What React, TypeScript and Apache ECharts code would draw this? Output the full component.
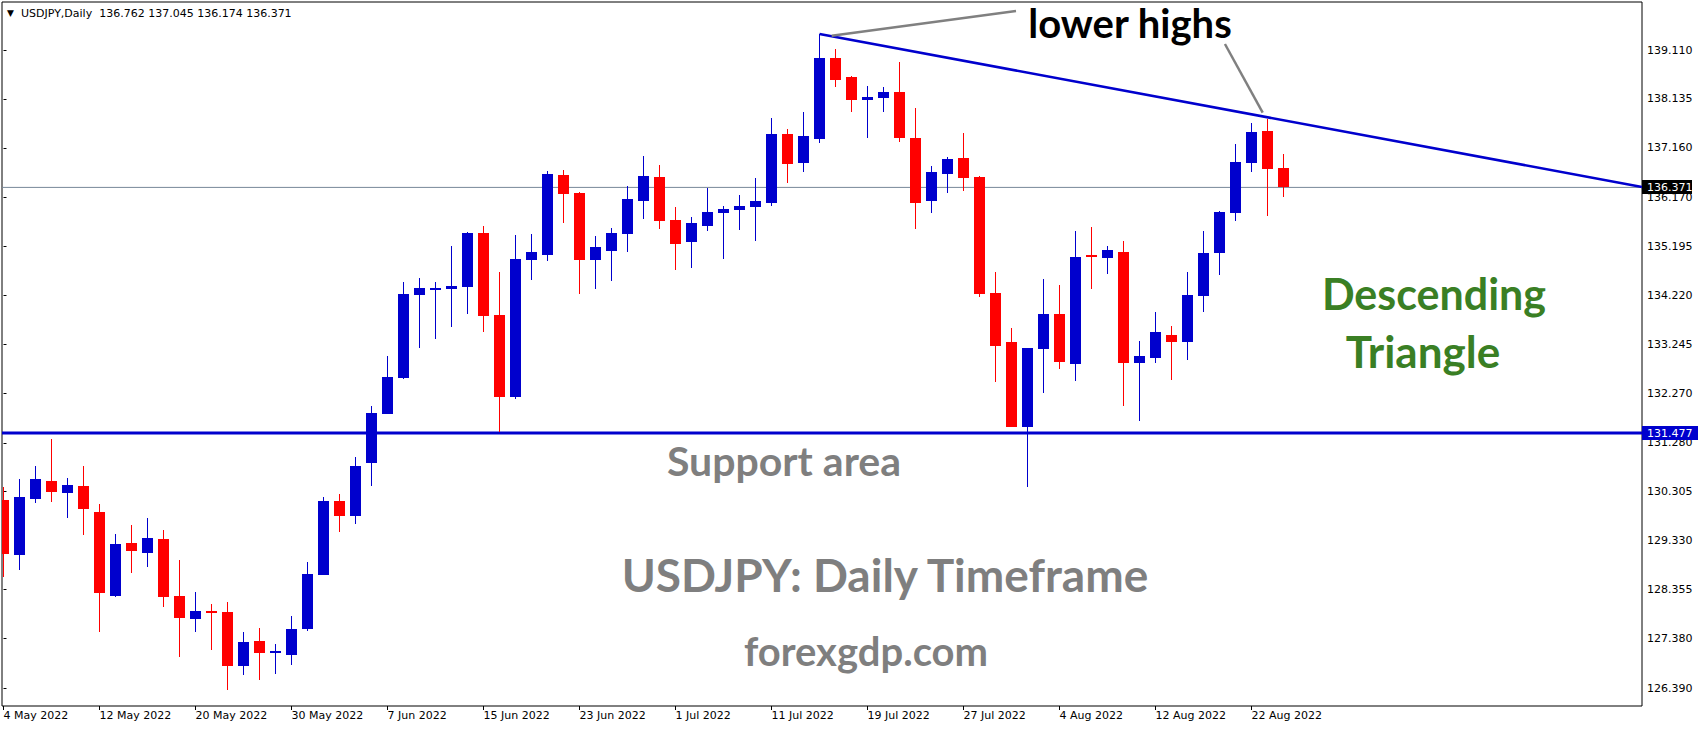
import React, { useEffect, useRef } from 'react';
import * as echarts from 'echarts';

// ---------- data ----------
const dates: string[] = [
  '4 May 2022', '5 May 2022', '6 May 2022', '9 May 2022', '10 May 2022', '11 May 2022', '12 May 2022', '13 May 2022',
  '16 May 2022', '17 May 2022', '18 May 2022', '19 May 2022', '20 May 2022', '23 May 2022', '24 May 2022', '25 May 2022',
  '26 May 2022', '27 May 2022', '30 May 2022', '31 May 2022', '1 Jun 2022', '2 Jun 2022', '3 Jun 2022', '6 Jun 2022',
  '7 Jun 2022', '8 Jun 2022', '9 Jun 2022', '10 Jun 2022', '13 Jun 2022', '14 Jun 2022', '15 Jun 2022', '16 Jun 2022',
  '17 Jun 2022', '20 Jun 2022', '21 Jun 2022', '22 Jun 2022', '23 Jun 2022', '24 Jun 2022', '27 Jun 2022', '28 Jun 2022',
  '29 Jun 2022', '30 Jun 2022', '1 Jul 2022', '4 Jul 2022', '5 Jul 2022', '6 Jul 2022', '7 Jul 2022', '8 Jul 2022',
  '11 Jul 2022', '12 Jul 2022', '13 Jul 2022', '14 Jul 2022', '15 Jul 2022', '18 Jul 2022', '19 Jul 2022', '20 Jul 2022',
  '21 Jul 2022', '22 Jul 2022', '25 Jul 2022', '26 Jul 2022', '27 Jul 2022', '28 Jul 2022', '29 Jul 2022', '1 Aug 2022',
  '2 Aug 2022', '3 Aug 2022', '4 Aug 2022', '5 Aug 2022', '8 Aug 2022', '9 Aug 2022', '10 Aug 2022', '11 Aug 2022',
  '12 Aug 2022', '15 Aug 2022', '16 Aug 2022', '17 Aug 2022', '18 Aug 2022', '19 Aug 2022', '22 Aug 2022', '23 Aug 2022',
  '24 Aug 2022',
];

const opens: number[] = [
  130.139, 129.049, 130.159, 130.518, 130.278, 130.418, 129.899, 128.225, 129.282, 129.082,
  129.361, 128.225, 127.766, 127.926, 127.906, 126.829, 127.328, 127.088, 127.049, 127.567,
  128.644, 130.119, 129.820, 130.883, 131.860, 132.571, 134.226, 134.325, 134.345, 134.385,
  135.468, 133.827, 132.199, 134.923, 135.023, 136.618, 136.259, 134.923, 135.103, 135.442,
  136.106, 136.578, 135.721, 135.282, 135.601, 135.860, 135.920, 135.980, 136.060, 137.435,
  136.857, 137.342, 138.950, 138.572, 138.113, 138.153, 138.273, 137.355, 136.100, 136.638,
  136.957, 136.578, 134.272, 133.289, 131.601, 133.156, 133.847, 132.857, 135.023, 134.970,
  135.083, 132.877, 132.976, 133.428, 133.295, 134.206, 135.063, 135.860, 136.857, 137.495,
  136.762,
];
const highs: number[] = [
  130.405, 130.557, 130.817, 131.355, 130.577, 130.817, 130.059, 129.461, 129.640, 129.780,
  129.541, 128.943, 128.305, 128.065, 128.105, 127.507, 127.587, 127.268, 127.826, 128.903,
  130.199, 130.258, 130.996, 132.013, 133.010, 134.485, 134.565, 134.485, 135.202, 135.488,
  135.601, 134.684, 135.422, 135.442, 136.698, 136.718, 136.279, 135.402, 135.561, 136.399,
  136.997, 136.817, 135.980, 135.781, 136.359, 136.000, 136.219, 136.558, 137.754, 137.535,
  137.874, 139.429, 139.130, 138.592, 138.392, 138.372, 138.871, 137.954, 136.797, 136.977,
  137.455, 136.598, 134.684, 133.568, 133.169, 134.551, 134.425, 135.501, 135.581, 135.203,
  135.302, 133.308, 133.887, 133.607, 134.684, 135.501, 135.900, 137.236, 137.655, 137.734,
  137.045,
];
const lows: number[] = [
  128.610, 128.743, 130.086, 130.099, 129.780, 129.441, 127.507, 128.205, 128.683, 128.803,
  128.006, 127.009, 127.507, 127.148, 126.351, 126.650, 126.550, 126.670, 126.849, 127.527,
  128.644, 129.501, 129.660, 130.424, 131.860, 132.551, 133.169, 133.348, 133.588, 133.847,
  133.488, 131.488, 132.159, 134.525, 134.903, 135.661, 134.245, 134.345, 134.505, 135.083,
  135.741, 135.541, 134.724, 134.764, 135.501, 134.943, 135.521, 135.302, 136.000, 136.458,
  136.678, 137.262, 138.372, 137.874, 137.355, 137.874, 137.276, 135.541, 135.860, 136.259,
  136.299, 134.193, 132.498, 131.601, 130.391, 132.278, 132.757, 132.518, 134.352, 134.651,
  132.019, 131.720, 132.877, 132.538, 132.936, 133.887, 134.624, 135.701, 136.678, 135.801,
  136.174,
];
const closes: number[] = [
  129.062, 130.199, 130.557, 130.298, 130.438, 129.959, 128.285, 129.262, 129.122, 129.381,
  128.205, 127.786, 127.926, 127.886, 126.829, 127.308, 127.088, 127.128, 127.567, 128.664,
  130.119, 129.820, 130.817, 131.880, 132.591, 134.245, 134.365, 134.365, 134.405, 135.468,
  133.807, 132.199, 134.943, 135.083, 136.638, 136.239, 134.923, 135.183, 135.462, 136.140,
  136.598, 135.701, 135.243, 135.661, 135.880, 135.940, 136.000, 136.100, 137.435, 136.837,
  137.395, 138.950, 138.512, 138.113, 138.173, 138.273, 137.355, 136.060, 136.678, 136.937,
  136.558, 134.252, 133.209, 131.601, 133.169, 133.847, 132.896, 134.983, 134.983, 135.123,
  132.877, 133.009, 133.488, 133.295, 134.226, 135.063, 135.880, 136.877, 137.475, 136.737,
  136.371,
];

const priceTicks: number[] = [
  139.110, 138.135, 137.160, 136.170, 135.195, 134.220, 133.245,
  132.270, 131.280, 130.305, 129.330, 128.355, 127.380, 126.390,
];
const dateTickIdx: number[] = [0, 6, 12, 18, 24, 30, 36, 42, 48, 54, 60, 66, 72, 78];

const supportLevel = 131.477;
const bidPrice = 136.371;
const trendLine: number[][] = [[51, 139.43], [102.406, 136.38]];
const arrowToPeak: number[][] = [[51.76, 139.395], [63.28, 139.888]];
const arrowToHigh: number[][] = [[76.34, 139.23], [78.7, 137.86]];

// ---------- style ----------
const BLUE = '#0000CD';
const RED = '#FF0000';
const GRAY = '#808080';
const BID = '#778899';
const X_MIN = -0.09375;
const X_MAX = 102.40625;
const Y_MIN = 126.032;
const Y_MAX = 140.067;
const AX_FONT = 'DejaVu Sans';
const BIG_FONT = 'Lato';

export default function App() {
  const ref = useRef<HTMLDivElement>(null);

  useEffect(() => {
    if (!ref.current) return;
    const chart = echarts.init(ref.current, undefined, { renderer: 'svg' });

    const rows = opens.map((o, i) => [i, o, highs[i], lows[i], closes[i]]);

    const option: any = {
      animation: false,
      backgroundColor: '#ffffff',
      grid: {
        left: 2, right: 62, top: 2, bottom: 24,
        show: true, borderColor: '#000', borderWidth: 1,
        containLabel: false, outerBoundsMode: 'none',
      },
      xAxis: {
        type: 'value', min: X_MIN, max: X_MAX,
        splitLine: { show: false },
        axisLine: { show: false },
        axisTick: { show: true, customValues: dateTickIdx, length: 4, lineStyle: { color: '#000' } },
        axisLabel: {
          customValues: dateTickIdx,
          formatter: (v: number) => dates[Math.round(v)] || '',
          align: 'left', color: '#000', fontFamily: AX_FONT, fontSize: 11, margin: 4,
        },
      },
      yAxis: {
        type: 'value', position: 'right', min: Y_MIN, max: Y_MAX, scale: true,
        splitLine: { show: false },
        axisLine: { show: false },
        axisTick: { show: true, customValues: priceTicks, length: 3, lineStyle: { color: '#000' } },
        axisLabel: {
          customValues: priceTicks,
          formatter: (v: number) => v.toFixed(3),
          color: '#000', fontFamily: AX_FONT, fontSize: 11, margin: 5,
        },
      },
      series: [
        {
          type: 'line', data: [[X_MIN, bidPrice], [X_MAX, bidPrice]], symbol: 'none',
          lineStyle: { color: BID, width: 1 }, silent: true, z: 1,
        },
        {
          type: 'line', data: [[X_MIN, supportLevel], [X_MAX, supportLevel]], symbol: 'none',
          lineStyle: { color: BLUE, width: 3 }, silent: true, z: 1,
        },
        {
          type: 'custom',
          data: rows,
          encode: { x: 0, y: [1, 2, 3, 4] },
          clip: true,
          z: 3,
          renderItem: (params: any, api: any) => {
            const i = api.value(0);
            const o = api.value(1), h = api.value(2), l = api.value(3), c = api.value(4);
            const color = c >= o ? BLUE : RED;
            const cx = api.coord([i, h])[0];
            const yH = Math.round(api.coord([i, h])[1]);
            const yL = Math.round(api.coord([i, l])[1]);
            const yO = api.coord([i, o])[1];
            const yC = api.coord([i, c])[1];
            const top = Math.round(Math.min(yO, yC));
            const bot = Math.round(Math.max(yO, yC));
            const xw = Math.round(cx - 0.5);
            return {
              type: 'group',
              children: [
                { type: 'rect', shape: { x: xw, y: yH, width: 1, height: Math.max(1, yL - yH) }, style: { fill: color } },
                { type: 'rect', shape: { x: xw - 5, y: top, width: 11, height: Math.max(2, bot - top) }, style: { fill: color } },
              ],
            };
          },
        },
        {
          type: 'line', data: trendLine, symbol: 'none',
          lineStyle: { color: BLUE, width: 2.5 }, silent: true, z: 4,
        },
        {
          type: 'line', data: arrowToPeak, symbol: 'none',
          lineStyle: { color: GRAY, width: 2.5 }, silent: true, z: 4,
        },
        {
          type: 'line', data: arrowToHigh, symbol: 'none',
          lineStyle: { color: GRAY, width: 2.5 }, silent: true, z: 4,
        },
      ],
    };
    chart.setOption(option);

    const ySup = chart.convertToPixel({ yAxisIndex: 0 }, supportLevel) as number;
    const yBid = chart.convertToPixel({ yAxisIndex: 0 }, bidPrice) as number;

    const bigText = (text: string, x: number, y: number, size: number, fill: string) => ({
      type: 'text', z: 60,
      style: { text, x, y, align: 'center', verticalAlign: 'middle', fill,
        fontFamily: BIG_FONT, fontWeight: 'bold', fontSize: size, lineHeight: Math.round(size * 0.95) },
    });

    chart.setOption({
      graphic: [
        { type: 'text', z: 60, style: { text: '▼', x: 7, y: 13, verticalAlign: 'middle', fill: '#000', fontFamily: AX_FONT, fontSize: 9 } },
        {
          type: 'text', z: 60,
          style: {
            text: `USDJPY,Daily  ${opens[80].toFixed(3)} ${highs[80].toFixed(3)} ${lows[80].toFixed(3)} ${closes[80].toFixed(3)}`,
            x: 21, y: 13, verticalAlign: 'middle', fill: '#000', fontFamily: AX_FONT, fontSize: 11,
          },
        },
        { type: 'rect', z: 70, shape: { x: 1642, y: Math.round(yBid) - 7, width: 50, height: 14 }, style: { fill: '#000' } },
        { type: 'text', z: 71, style: { text: bidPrice.toFixed(3), x: 1647, y: Math.round(yBid), verticalAlign: 'middle', fill: '#fff', fontFamily: AX_FONT, fontSize: 11 } },
        { type: 'rect', z: 70, shape: { x: 1642, y: Math.round(ySup) - 7, width: 56, height: 14 }, style: { fill: BLUE } },
        { type: 'text', z: 71, style: { text: supportLevel.toFixed(3), x: 1647, y: Math.round(ySup), verticalAlign: 'middle', fill: '#fff', fontFamily: AX_FONT, fontSize: 11 } },
        bigText('lower highs', 1130, 23, 40, '#000'),
        bigText('Support area', 784, 460, 41, '#7f7f7f'),
        bigText('USDJPY: Daily Timeframe', 885, 574, 46, '#7f7f7f'),
        bigText('forexgdp.com', 866, 651, 40, '#7f7f7f'),
        bigText('Descending', 1434, 293, 43, '#3a7f24'),
        bigText('Triangle', 1423, 351, 44, '#3a7f24'),
      ],
    });

    return () => chart.dispose();
  }, []);

  return (
    <div
      ref={ref}
      style={{ position: 'fixed', left: 0, top: 0, width: 1704, height: 730, background: '#fff' }}
    />
  );
}
